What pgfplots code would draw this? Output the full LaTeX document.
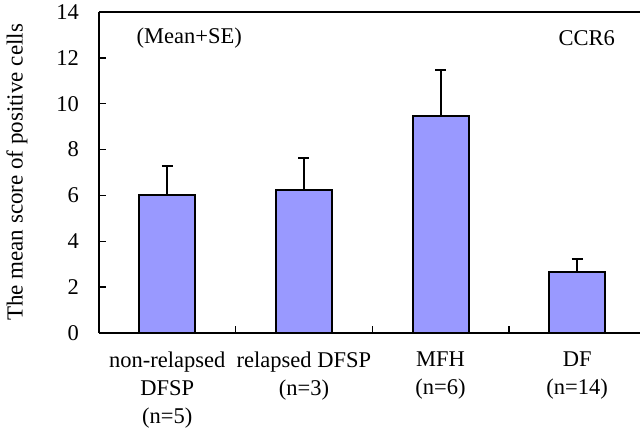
\documentclass[border=0pt]{standalone}
\usepackage{fontspec}
\setmainfont{Liberation Serif}
\usepackage{pgfplots}
\pgfplotsset{compat=1.18}
\definecolor{barblue}{HTML}{9999FF}
\begin{document}
\fontsize{22.5bp}{28bp}\selectfont
\begin{tikzpicture}
\useasboundingbox (0,0) rectangle (640bp,432bp);
\begin{axis}[
  at={(99bp,99bp)}, anchor=south west,
  scale only axis, width=541bp, height=321bp,
  xmin=0.5, xmax=4.46, ymin=0, ymax=14,
  axis x line=bottom, axis y line=left,
  axis line style={-, line width=1.4bp, black},
  clip=false,
  tick align=inside,
  major tick length=7bp,
  tick style={black, line width=1.4bp},
  xtick={1.5,2.5,3.5}, xticklabels={},
  extra x ticks={1,2,3,4},
  extra x tick labels={non-relapsed\\DFSP\\(n=5), relapsed DFSP\\(n=3), MFH\\(n=6), DF\\(n=14)},
  extra x tick style={major tick length=0pt},
  xticklabel style={align=center, anchor=north, inner sep=0pt, yshift=-19bp, font=\fontsize{22.5bp}{28bp}\selectfont},
  ytick={0,2,...,14},
  yticklabel style={anchor=east, inner sep=0pt, xshift=-20bp, font=\fontsize{22.5bp}{28bp}\selectfont},
  /pgf/number format/assume math mode=true,
  ylabel={The mean score of positive cells},
  every axis y label/.style={at={(axis description cs:-0.1516,0.5)}, rotate=90, anchor=center, font=\fontsize{23bp}{28bp}\selectfont},
]
\addplot[ybar, bar width=56bp, fill=barblue, draw=black, line width=2bp,
  error bars/.cd, y dir=plus, y explicit,
  error bar style={line width=2bp, black},
  error mark options={rotate=90, mark size=5.5bp, line width=2bp, black}]
  coordinates {
    (1,6.0)  +- (0,1.3)
    (2,6.25) +- (0,1.4)
    (3,9.45) +- (0,2.0)
    (4,2.65) +- (0,0.58)
  };
\draw[line width=1.4bp, black] (axis cs:0.5,14) -- (axis cs:4.46,14);
\node[font=\fontsize{22.5bp}{28bp}\selectfont] at (axis cs:1.16,12.87) {(Mean+SE)};
\node[font=\fontsize{22.5bp}{28bp}\selectfont] at (axis cs:4.07,12.87) {CCR6};
\end{axis}
\end{tikzpicture}
\end{document}
